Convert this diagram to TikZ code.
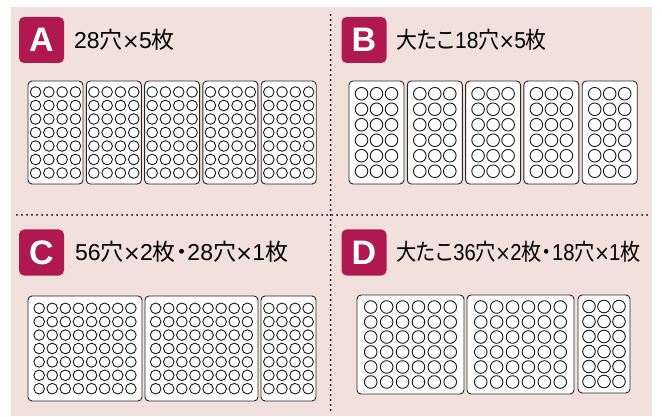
\documentclass[tikz,border=0pt]{standalone}
\usepackage{fontspec}
\newfontfamily\jpfont[RawFeature=+palt]{Noto Sans CJK JP}
\newfontfamily\badgefont{Liberation Sans}
\newfontfamily\numfont{Liberation Sans}
\newfontfamily\signfont{DejaVu Sans}

\definecolor{panelpink}{HTML}{F2E0DD}
\definecolor{badgered}{HTML}{B0194F}

\newcommand{\jp}[1]{{\jpfont\fontsize{23}{23}\selectfont #1}}
\newcommand{\by}{\kern-0.6pt{\signfont\fontsize{21}{21}\selectfont ×}\kern-0.6pt}

\tikzset{
  badge/.style={fill=badgered, rounded corners=5pt, minimum width=45pt, minimum height=46pt,
    inner sep=0pt, text=white, font=\badgefont\bfseries\fontsize{34}{34}\selectfont},
  caption/.style={anchor=base west, inner sep=0pt, font=\numfont\fontsize{23}{23}\selectfont},
  divider/.style={line width=2pt, dash pattern=on 0pt off 5pt, line cap=round, black},
  tray/.style={draw=black!85, fill=white, line width=0.9pt, rounded corners=4pt},
  hole/.style={draw=black!90, line width=0.9pt},
}

% left, top, right, bottom, columns, rows, x pitch, y pitch, radius
\newcommand{\tray}[9]{%
  \draw[tray] (#1,#2) rectangle (#3,#4);
  \pgfmathsetmacro{\cxo}{(#1+#3)/2-(#5-1)*#7/2}
  \pgfmathsetmacro{\cyo}{(#2+#4)/2-(#6-1)*#8/2}
  \foreach \i in {1,...,#5}
    \foreach \j in {1,...,#6}
      \draw[hole] ({\cxo+(\i-1)*#7},{\cyo+(\j-1)*#8}) circle[radius=#9];
}

\begin{document}
\begin{tikzpicture}[x=1pt, y=-1pt]
    \useasboundingbox (0,0) rectangle (662,417);
    \fill[panelpink] (11,7.5) rectangle (652,416);

    % dividers
    \draw[divider] (330.7,15) -- (330.7,414);
    \draw[divider] (17,215) -- (647,215);

    % headings
    \node[badge] (badgeA) at (41.5,40) {A};
    \node[caption] (textA) at (74,48.3) {28\jp{穴}\by5\jp{枚}};
    \node[badge] (badgeB) at (364,40) {B};
    \node[caption] (textB) at (396,48.3) {\scalebox{0.91}[1]{\jp{大たこ}18\jp{穴}\by5\jp{枚}}};
    \node[badge] (badgeC) at (41.5,252.5) {C};
    \node[caption] (textC) at (75,260.7) {56\jp{穴}\by2\jp{枚・}28\jp{穴}\by1\jp{枚}};
    \node[badge] (badgeD) at (364,252.5) {D};
    \node[caption] (textD) at (396,260.7) {\scalebox{0.88}[1]{\jp{大たこ}36\jp{穴}\by2\jp{枚・}18\jp{穴}\by1\jp{枚}}};

    % A: 28 holes x 5
    \foreach \l in {28,86.3,144.6,202.9,261.2} {
      \tray{\l}{81}{\l+55}{184}{4}{7}{13.3}{13.5}{5.3}
    }

    % B: large 18 holes x 5
    \foreach \l in {349,407.3,465.6,523.9,582.2} {
      \tray{\l}{81}{\l+55}{184}{3}{6}{15}{15.5}{6.3}
    }

    % C: 56 holes x 2, 28 holes x 1
    \tray{28}{296}{142}{401}{8}{7}{13.1}{13.4}{5.3}
    \tray{145}{296}{258}{401}{8}{7}{13.1}{13.4}{5.3}
    \tray{261}{296}{316}{401}{4}{7}{13.1}{13.4}{5.3}

    % D: large 36 holes x 2, 18 holes x 1
    \tray{357}{295}{464}{394}{6}{6}{15.9}{15}{6.3}
    \tray{467}{295}{574}{394}{6}{6}{15.9}{15}{6.3}
    \tray{578}{295}{630}{393}{3}{6}{15}{15}{6.3}
\end{tikzpicture}
\end{document}
